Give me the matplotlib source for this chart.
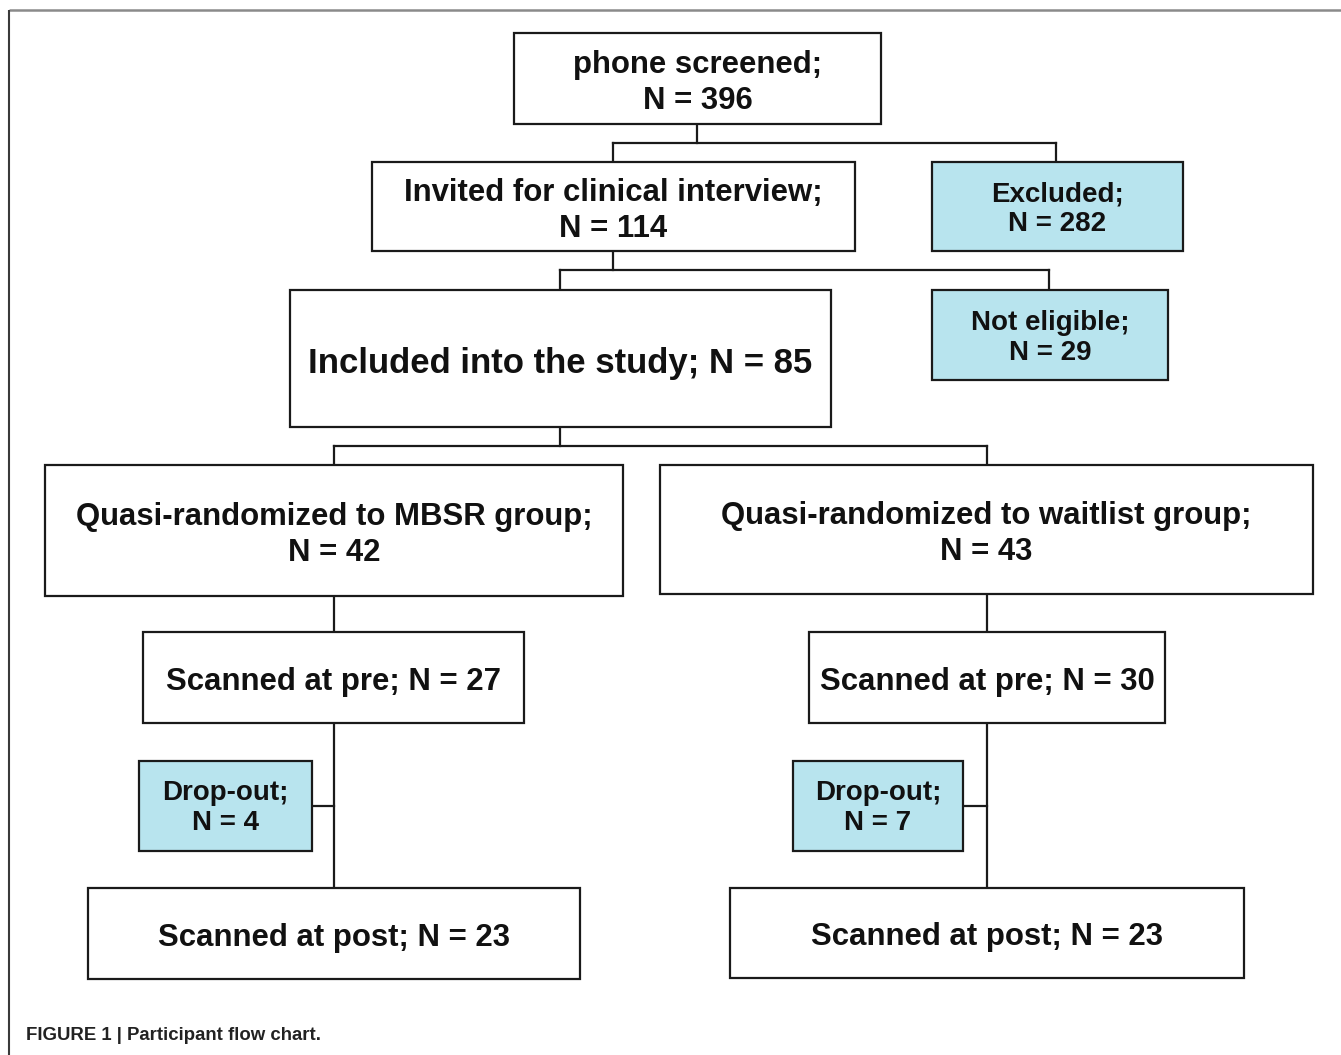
import matplotlib
matplotlib.use("Agg")
import matplotlib.pyplot as plt
from matplotlib.patches import Rectangle

# ---- data ----
box_labels = ["phone screened", "Invited for clinical interview", "Excluded",
              "Included into the study", "Not eligible",
              "Quasi-randomized to MBSR group", "Quasi-randomized to waitlist group",
              "Scanned at pre", "Scanned at pre", "Drop-out", "Drop-out",
              "Scanned at post", "Scanned at post"]
box_counts = [396, 114, 282, 85, 29, 42, 43, 27, 30, 4, 7, 23, 23]
box_kind = ["main", "main", "excl", "main", "excl", "main", "main",
            "main", "main", "excl", "excl", "main", "main"]
single_line = [False, False, False, True, False, False, False,
               True, True, False, False, True, True]
caption = "FIGURE 1 | Participant flow chart."

# ---- layout (pixel coordinates, y downward) ----
boxes = [
    (514, 33, 881, 124),
    (372, 162, 855, 251),
    (932, 162, 1183, 251),
    (290, 290, 831, 427),
    (932, 290, 1168, 380),
    (45, 465, 623, 596),
    (660, 465, 1313, 594),
    (143, 632, 524, 723),
    (809, 632, 1165, 723),
    (139, 761, 312, 851),
    (793, 761, 963, 851),
    (88, 888, 580, 979),
    (730, 888, 1244, 978),
]
connectors = [
    [(697, 124), (697, 143)], [(613, 143), (1056, 143)],
    [(613, 143), (613, 162)], [(1056, 143), (1056, 162)],
    [(613, 251), (613, 270)], [(560, 270), (1049, 270)],
    [(560, 270), (560, 290)], [(1049, 270), (1049, 290)],
    [(560, 427), (560, 446)], [(334, 446), (987, 446)],
    [(334, 446), (334, 465)], [(987, 446), (987, 465)],
    [(334, 596), (334, 632)], [(987, 594), (987, 632)],
    [(334, 723), (334, 888)], [(987, 723), (987, 888)],
    [(312, 806), (334, 806)], [(963, 806), (987, 806)],
]

W, H = 1341, 1055
fig = plt.figure(figsize=(W / 100, H / 100), dpi=100)
ax = fig.add_axes([0, 0, 1, 1])
ax.set_xlim(0, W)
ax.set_ylim(H, 0)
ax.axis("off")

plt.rcParams["font.family"] = ["Liberation Sans", "DejaVu Sans"]

# outer frame
ax.plot([9, W], [10, 10], color="#8a8a8a", lw=1.8, solid_capstyle="butt")
ax.plot([9, 9], [10, H], color="#3a3a3a", lw=1.5, solid_capstyle="butt")

for seg in connectors:
    xs = [p[0] for p in seg]
    ys = [p[1] for p in seg]
    ax.plot(xs, ys, color="#1a1a1a", lw=1.6, solid_capstyle="projecting", zorder=1)

fill = {"main": "white", "excl": "#b8e4ee"}
for (x0, y0, x1, y1), lab, n, kind, single in zip(boxes, box_labels, box_counts,
                                                  box_kind, single_line):
    ax.add_patch(Rectangle((x0, y0), x1 - x0, y1 - y0, facecolor=fill[kind],
                           edgecolor="#1a1a1a", lw=1.6, zorder=2))
    if single:
        txt = f"{lab}; N = {n}"
    else:
        txt = f"{lab};\nN = {n}"
    if lab.startswith("Included"):
        fs, ls = 25, 1.2
    elif kind == "excl":
        fs, ls = 20, 1.2
    else:
        fs, ls = 22.4, 1.22
    dy = 4.5 if kind == "main" else 2.5
    ax.text((x0 + x1) / 2, (y0 + y1) / 2 + dy, txt, ha="center", va="center",
            fontsize=fs, fontweight="bold", color="#111111",
            linespacing=ls, zorder=3)

ax.text(26, 1035, caption, ha="left", va="center", fontsize=13.4,
        fontweight="bold", color="#222222")

fig.savefig("out.png", dpi=100)
